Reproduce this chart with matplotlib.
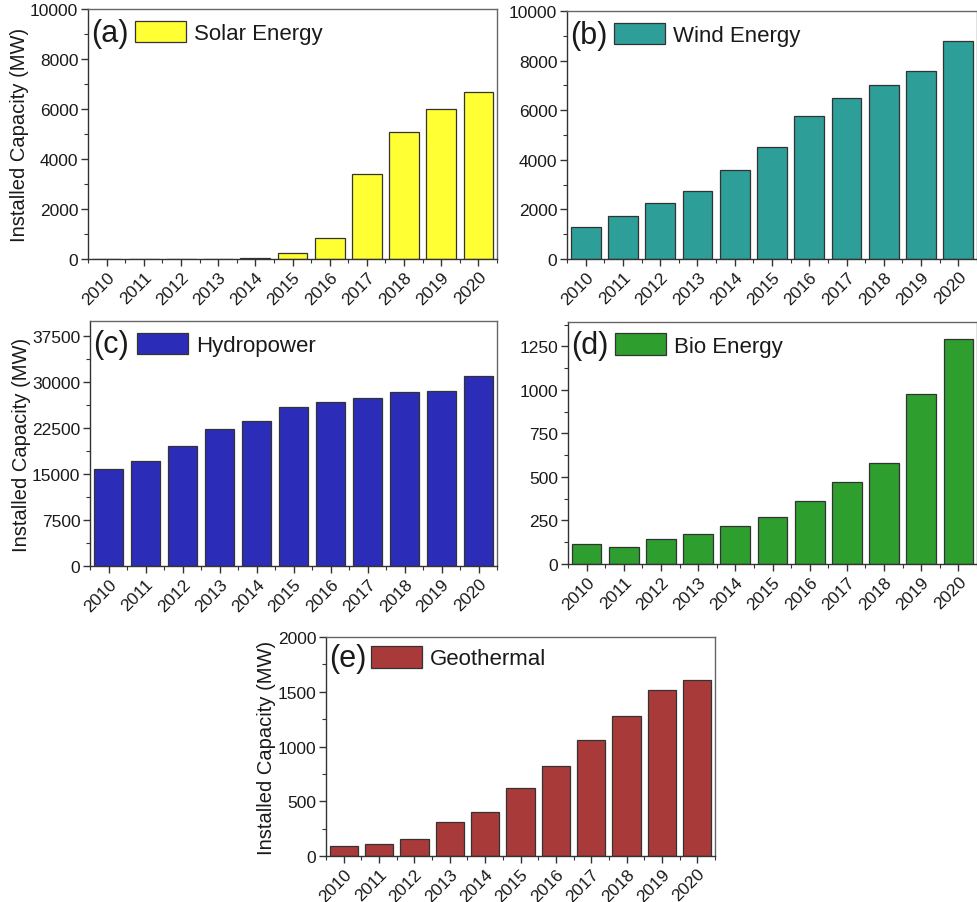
import matplotlib.pyplot as plt
import numpy as np
from matplotlib.patches import Patch
from matplotlib.ticker import AutoMinorLocator, MultipleLocator

plt.rcParams["font.family"] = ["Liberation Sans", "DejaVu Sans"]

years = [2010, 2011, 2012, 2013, 2014, 2015, 2016, 2017, 2018, 2019, 2020]

solar = [0, 0, 12, 0, 45, 245, 830, 3420, 5070, 6000, 6670]
wind = [1290, 1720, 2250, 2750, 3600, 4500, 5760, 6510, 7000, 7600, 8810]
hydro = [15800, 17170, 19620, 22350, 23600, 25950, 26700, 27360, 28400, 28500, 31000]
bio = [116, 97, 143, 172, 221, 271, 359, 473, 582, 979, 1294]
geo = [94, 113, 158, 310, 405, 621, 822, 1059, 1282, 1519, 1610]

W, H = 978, 903


def box(left, top, right, bottom):
    # pixel box -> figure fraction rect
    return [left / W, 1 - bottom / H, (right - left) / W, (bottom - top) / H]


panels = [
    ("(a)", "Solar Energy", solar, "#FFFF33", box(88, 10, 497, 260), 10000, 2000, True),
    ("(b)", "Wind Energy", wind, "#2E9E98", box(567, 12, 977, 260), 10000, 2000, False),
    ("(c)", "Hydropower", hydro, "#2B2DB8", box(90, 322, 497, 567), 40000, 7500, True),
    ("(d)", "Bio Energy", bio, "#2E9E2E", box(568, 323, 977, 565), 1390, 250, False),
    ("(e)", "Geothermal", geo, "#A83A3A", box(326, 638, 715, 857), 2000, 500, True),
]

fig = plt.figure(figsize=(W / 100, H / 100), dpi=100)

for tag, name, values, color, rect, ymax, ystep, ylab in panels:
    ax = fig.add_axes(rect)
    ax.bar(years, values, width=0.8, color=color, edgecolor="#333333", linewidth=0.9)
    ax.set_xlim(2009.5, 2020.5)
    ax.set_ylim(0, ymax)
    ax.set_xticks(years)
    ax.set_xticklabels([str(y) for y in years], rotation=45, ha="right",
                       rotation_mode="anchor", fontsize=12.5)
    ax.yaxis.set_major_locator(MultipleLocator(ystep))
    ax.yaxis.set_minor_locator(AutoMinorLocator(2))
    ax.xaxis.set_minor_locator(AutoMinorLocator(2))
    ax.tick_params(axis="both", which="major", direction="out", length=5,
                   width=1, labelsize=12.5, color="#333333", labelcolor="#1a1a1a")
    ax.tick_params(axis="both", which="minor", direction="out", length=3,
                   width=0.8, color="#333333")
    ax.tick_params(axis="x", pad=2)
    ax.tick_params(axis="y", pad=2)
    for side in ["left", "bottom"]:
        ax.spines[side].set_color("#333333")
        ax.spines[side].set_linewidth(1.0)
    for side in ["top", "right"]:
        ax.spines[side].set_color("#666666")
        ax.spines[side].set_linewidth(1.0)
    if ylab:
        ax.set_ylabel("Installed Capacity (MW)", fontsize=14.5, labelpad=1,
                      color="#1a1a1a")

    ax.text(0.008, 0.905, tag, transform=ax.transAxes, fontsize=22,
            va="center", ha="left", color="#1a1a1a")
    handle = Patch(facecolor=color, edgecolor="#333333", linewidth=0.9)
    ax.legend(handles=[handle], labels=[name], loc="center left",
              bbox_to_anchor=(0.115, 0.905), frameon=False, fontsize=16,
              handlelength=2.3, handleheight=1.1, handletextpad=0.35,
              borderpad=0, borderaxespad=0, labelcolor="#1a1a1a")

fig.savefig("out.png", dpi=100)
